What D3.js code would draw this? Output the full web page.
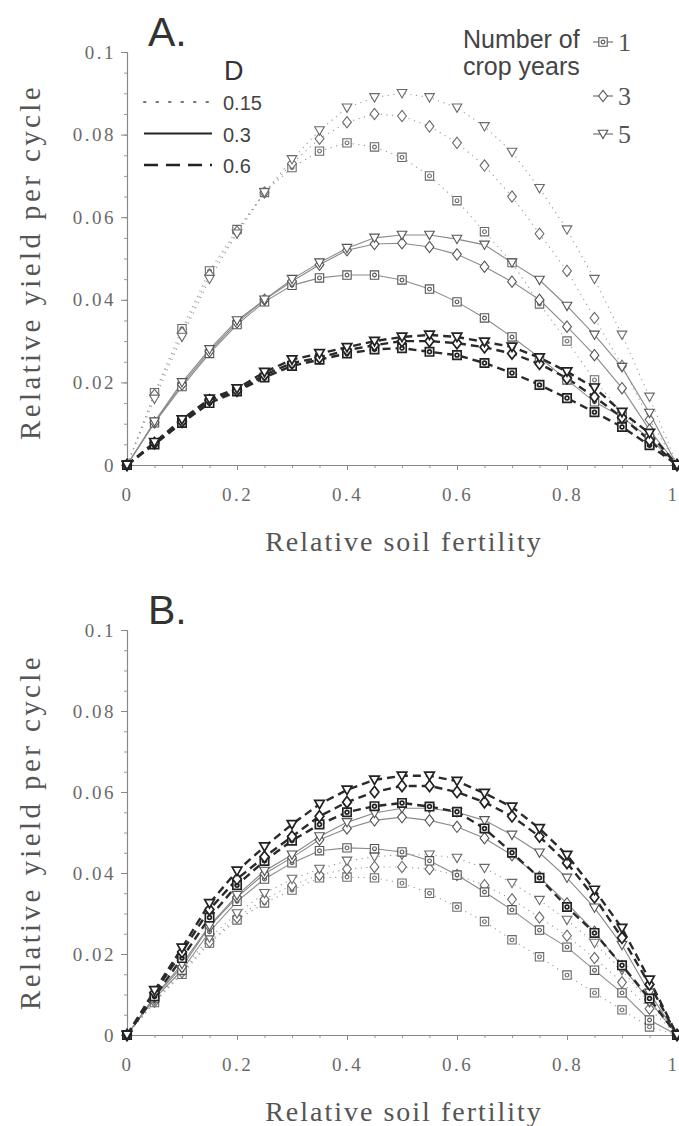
<!DOCTYPE html>
<html>
<head>
<meta charset="utf-8">
<script src="https://cdn.jsdelivr.net/npm/d3@7"></script>
<style>
  body { margin: 0; background: #fff; }
  svg { display: block; }
</style>
</head>
<body>
<svg id="chart" width="679" height="1126"></svg>
<script>
// relative soil fertility (x)
const fertility = [0, 0.05, 0.1, 0.15, 0.2, 0.25, 0.3, 0.35, 0.4, 0.45, 0.5,
                   0.55, 0.6, 0.65, 0.7, 0.75, 0.8, 0.85, 0.9, 0.95, 1];

// panel A, D = 0.15
const a15y1 = [0, 0.0175, 0.033, 0.047, 0.057, 0.066, 0.072, 0.076, 0.078, 0.077, 0.0745, 0.070, 0.064, 0.0565, 0.049, 0.039, 0.030, 0.0206, 0.0126, 0.006, 0];
const a15y3 = [0, 0.017, 0.032, 0.046, 0.0565, 0.066, 0.073, 0.079, 0.083, 0.085, 0.0845, 0.082, 0.078, 0.0725, 0.065, 0.056, 0.047, 0.0356, 0.024, 0.011, 0];
const a15y5 = [0, 0.016, 0.031, 0.045, 0.056, 0.066, 0.074, 0.081, 0.0865, 0.089, 0.090, 0.089, 0.0865, 0.082, 0.0758, 0.067, 0.057, 0.045, 0.0315, 0.0165, 0];
// panel A, D = 0.3
const a30y1 = [0, 0.0102, 0.019, 0.027, 0.034, 0.0395, 0.0435, 0.0453, 0.046, 0.046, 0.0448, 0.0426, 0.0395, 0.0356, 0.031, 0.026, 0.0206, 0.0153, 0.0116, 0.0065, 0];
const a30y3 = [0, 0.0103, 0.0195, 0.0275, 0.0345, 0.040, 0.0445, 0.0485, 0.052, 0.0535, 0.0537, 0.0528, 0.051, 0.048, 0.0444, 0.040, 0.0335, 0.0266, 0.0186, 0.0085, 0];
const a30y5 = [0, 0.0105, 0.020, 0.028, 0.035, 0.040, 0.045, 0.049, 0.0525, 0.055, 0.0557, 0.0557, 0.0547, 0.0533, 0.049, 0.0448, 0.0385, 0.0315, 0.0237, 0.0126, 0];
// panel A, D = 0.6
const a60y1 = [0, 0.005, 0.0102, 0.015, 0.0178, 0.0212, 0.024, 0.0255, 0.027, 0.028, 0.0283, 0.0274, 0.0266, 0.0247, 0.0223, 0.0194, 0.0162, 0.0128, 0.0092, 0.0048, 0];
const a60y3 = [0, 0.0053, 0.0105, 0.0157, 0.018, 0.0218, 0.0247, 0.026, 0.0278, 0.029, 0.030, 0.030, 0.0295, 0.0285, 0.027, 0.0245, 0.021, 0.0165, 0.0115, 0.006, 0];
const a60y5 = [0, 0.0055, 0.011, 0.016, 0.0185, 0.0225, 0.0255, 0.027, 0.0285, 0.030, 0.031, 0.0315, 0.031, 0.0298, 0.0286, 0.026, 0.0226, 0.0187, 0.0128, 0.0077, 0];

// panel B, D = 0.15
const b15y1 = [0, 0.008, 0.015, 0.0227, 0.0284, 0.0326, 0.0358, 0.0388, 0.039, 0.0388, 0.0375, 0.035, 0.0316, 0.028, 0.0235, 0.0193, 0.0148, 0.0104, 0.0062, 0.002, 0];
const b15y3 = [0, 0.0082, 0.0155, 0.023, 0.029, 0.0335, 0.037, 0.0395, 0.041, 0.0415, 0.0415, 0.041, 0.0395, 0.037, 0.0335, 0.029, 0.0245, 0.019, 0.013, 0.0065, 0];
const b15y5 = [0, 0.0085, 0.016, 0.024, 0.030, 0.035, 0.0385, 0.041, 0.043, 0.044, 0.0445, 0.0445, 0.0437, 0.0412, 0.0375, 0.0333, 0.0284, 0.0227, 0.016, 0.008, 0];
// panel B, D = 0.3
const b30y1 = [0, 0.009, 0.016, 0.0255, 0.033, 0.0385, 0.0425, 0.0455, 0.0462, 0.046, 0.0452, 0.043, 0.0395, 0.0353, 0.0309, 0.0259, 0.0217, 0.016, 0.0104, 0.0037, 0];
const b30y3 = [0, 0.0094, 0.0168, 0.0268, 0.034, 0.0398, 0.0438, 0.0482, 0.051, 0.053, 0.0538, 0.053, 0.0514, 0.0486, 0.0444, 0.039, 0.0325, 0.0255, 0.017, 0.0085, 0];
const b30y5 = [0, 0.0095, 0.0175, 0.027, 0.0345, 0.0405, 0.0445, 0.049, 0.0525, 0.0548, 0.056, 0.056, 0.055, 0.053, 0.0494, 0.045, 0.0388, 0.0314, 0.0222, 0.0104, 0];
// panel B, D = 0.6
const b60y1 = [0, 0.0095, 0.019, 0.029, 0.037, 0.043, 0.048, 0.052, 0.055, 0.0565, 0.0573, 0.0564, 0.0551, 0.051, 0.045, 0.0388, 0.0316, 0.0252, 0.0172, 0.009, 0];
const b60y3 = [0, 0.0105, 0.0205, 0.031, 0.0385, 0.044, 0.049, 0.054, 0.0575, 0.060, 0.0615, 0.0615, 0.060, 0.0575, 0.054, 0.049, 0.0425, 0.034, 0.024, 0.0125, 0];
const b60y5 = [0, 0.011, 0.0215, 0.0325, 0.0405, 0.0465, 0.052, 0.057, 0.0605, 0.063, 0.064, 0.064, 0.0627, 0.0597, 0.0563, 0.051, 0.0444, 0.0358, 0.0264, 0.0136, 0];

const yTicks = [0, 0.02, 0.04, 0.06, 0.08, 0.1];
const xTicks = [0, 0.2, 0.4, 0.6, 0.8, 1];
const dLegend = ['0.15', '0.3', '0.6'];
const yearLegend = ['1', '3', '5'];

const svg = d3.select('#chart');

// marker shapes
const symSquare = { draw(ctx, s) {
  const h = Math.sqrt(s) / 2;
  ctx.rect(-h, -h, 2 * h, 2 * h);
  ctx.moveTo(h * 0.45, 0);
  ctx.arc(0, 0, h * 0.45, 0, 2 * Math.PI);
} };
const symDiamond = { draw(ctx, s) {
  const r = Math.sqrt(s) / 2;
  ctx.moveTo(0, -r * 1.35);
  ctx.lineTo(r * 1.05, 0);
  ctx.lineTo(0, r * 1.35);
  ctx.lineTo(-r * 1.05, 0);
  ctx.closePath();
} };
const symTriDown = { draw(ctx, s) {
  const r = Math.sqrt(s) / 2;
  ctx.moveTo(-r * 1.15, -r * 0.9);
  ctx.lineTo(r * 1.15, -r * 0.9);
  ctx.lineTo(0, r * 1.1);
  ctx.closePath();
} };
const shapes = { '1': symSquare, '3': symDiamond, '5': symTriDown };

const lineStyle = {
  '0.15': { stroke: '#9a9a9a', width: 1.1, dash: '1.2,4.5' },
  '0.3':  { stroke: '#8a8a8a', width: 1.1, dash: null },
  '0.6':  { stroke: '#2a2a2a', width: 2.4, dash: '8,5' }
};
const markStyle = {
  '0.15': { stroke: '#6a6a6a', width: 1.1 },
  '0.3':  { stroke: '#555', width: 1.1 },
  '0.6':  { stroke: '#222', width: 1.7 }
};

let x = d3.scaleLinear().domain([0, 1]).range([127, 677]);

function drawPanel(y, series, label) {
  let g = svg.append('g');

  // minor ticks
  g.append('g')
    .attr('transform', 'translate(127,0)')
    .call(d3.axisLeft(y).tickValues(d3.range(0, 0.1001, 0.005)).tickSize(3).tickFormat(''))
    .call(a => a.select('.domain').remove())
    .selectAll('line').attr('stroke', '#999');

  let yAxis = g.append('g')
    .attr('transform', 'translate(127,0)')
    .call(d3.axisLeft(y).tickValues(yTicks).tickSize(6).tickPadding(5)
      .tickFormat(d => d === 0 ? '0' : String(+d.toFixed(2))));
  yAxis.select('.domain').attr('stroke', '#888').attr('stroke-width', 1.2);
  yAxis.selectAll('line').attr('stroke', '#888');
  yAxis.selectAll('text')
    .style('font-family', '"Liberation Serif", serif')
    .style('font-size', '19px')
    .style('letter-spacing', '2.5px')
    .attr('fill', '#6a6a6a');

  let y0 = y(0);
  g.append('g')
    .attr('transform', 'translate(0,' + y0 + ')')
    .call(d3.axisBottom(x).tickValues(d3.range(0, 1.001, 0.05)).tickSize(3).tickFormat(''))
    .call(a => a.select('.domain').remove())
    .selectAll('line').attr('stroke', '#999');

  let xAxis = g.append('g')
    .attr('transform', 'translate(0,' + y0 + ')')
    .call(d3.axisBottom(x).tickValues(xTicks).tickSize(5).tickPadding(18)
      .tickFormat(d => d === 0 || d === 1 ? String(d) : d.toFixed(1)));
  xAxis.select('.domain').attr('stroke', '#888').attr('stroke-width', 1.2);
  xAxis.selectAll('line').attr('stroke', '#888');
  xAxis.selectAll('text')
    .style('font-family', '"Liberation Serif", serif')
    .style('font-size', '19px')
    .style('letter-spacing', '2.5px')
    .attr('fill', '#6a6a6a');
  // the last label sits at the right edge
  xAxis.selectAll('.tick text')
    .filter(d => d === 1)
    .attr('text-anchor', 'end')
    .attr('dx', '2');

  // axis titles
  g.append('text')
    .attr('x', 404).attr('y', y0 + 86)
    .attr('text-anchor', 'middle')
    .style('font-family', '"Liberation Serif", serif')
    .style('font-size', '28px')
    .style('letter-spacing', '2px')
    .attr('fill', '#555')
    .text('Relative soil fertility');

  g.append('text')
    .attr('transform', 'translate(40,' + (y0 - 203) + ') rotate(-90)')
    .attr('text-anchor', 'middle')
    .style('font-family', '"Liberation Serif", serif')
    .style('font-size', '29px')
    .style('letter-spacing', '3.4px')
    .attr('fill', '#555')
    .text('Relative yield per cycle');

  g.append('text')
    .attr('x', 148).attr('y', y(0.1) - 6)
    .style('font-family', '"Liberation Sans", Arial, sans-serif')
    .style('font-size', '41px')
    .attr('fill', '#333')
    .text(label);

  let line = d3.line().x((d, i) => x(fertility[i])).y(d => y(d));

  ['0.15', '0.3', '0.6'].forEach(D => {
    series.filter(s => s.D === D).forEach(s => {
      let st = lineStyle[D];
      g.append('path')
        .datum(s.values)
        .attr('fill', 'none')
        .attr('stroke', st.stroke)
        .attr('stroke-width', st.width)
        .attr('stroke-dasharray', st.dash)
        .attr('d', line);
    });
  });

  series.forEach(s => {
    let ms = markStyle[s.D];
    g.append('g')
      .selectAll('path')
      .data(s.values)
      .enter()
      .append('path')
      .attr('transform', (d, i) => 'translate(' + x(fertility[i]) + ',' + y(d) + ')')
      .attr('d', d3.symbol().type(shapes[s.years]).size(70))
      .attr('fill', '#fff')
      .attr('stroke', ms.stroke)
      .attr('stroke-width', ms.width);
  });
}

function makeSeries(v15, v30, v60) {
  let out = [];
  [['0.15', v15], ['0.3', v30], ['0.6', v60]].forEach(([D, vals]) => {
    yearLegend.forEach((yr, k) => out.push({ D: D, years: yr, values: vals[k] }));
  });
  return out;
}

let yA = d3.scaleLinear().domain([0, 0.1]).range([465, 52]);
let yB = d3.scaleLinear().domain([0, 0.1]).range([1035, 630]);

drawPanel(yA, makeSeries([a15y1, a15y3, a15y5], [a30y1, a30y3, a30y5], [a60y1, a60y3, a60y5]), 'A.');
drawPanel(yB, makeSeries([b15y1, b15y3, b15y5], [b30y1, b30y3, b30y5], [b60y1, b60y3, b60y5]), 'B.');

// legend: D
let leg = svg.append('g');
leg.append('text')
  .attr('x', 224).attr('y', 80)
  .style('font-family', '"Liberation Sans", Arial, sans-serif')
  .style('font-size', '27px')
  .attr('fill', '#333')
  .text('D');

let legDash = { '0.15': { stroke: '#777', width: 2.2, dash: '1.5,11' },
                '0.3': { stroke: '#222', width: 2.2, dash: null },
                '0.6': { stroke: '#222', width: 2.6, dash: '14,8' } };
dLegend.forEach((D, i) => {
  let yy = 102 + i * 31.5;
  leg.append('line')
    .attr('x1', 144).attr('x2', 212).attr('y1', yy).attr('y2', yy)
    .attr('stroke', legDash[D].stroke)
    .attr('stroke-width', legDash[D].width)
    .attr('stroke-linecap', D === '0.15' ? 'round' : 'butt')
    .attr('stroke-dasharray', legDash[D].dash);
  leg.append('text')
    .attr('x', 223).attr('y', yy + 8)
    .style('font-family', '"Liberation Sans", Arial, sans-serif')
    .style('font-size', '20px')
    .attr('fill', '#444')
    .text(D);
});

// legend: number of crop years
leg.append('text')
  .attr('x', 463).attr('y', 48)
  .style('font-family', '"Liberation Sans", Arial, sans-serif')
  .style('font-size', '25px')
  .attr('fill', '#444')
  .text('Number of');
leg.append('text')
  .attr('x', 463).attr('y', 75)
  .style('font-family', '"Liberation Sans", Arial, sans-serif')
  .style('font-size', '25px')
  .attr('fill', '#444')
  .text('crop years');

yearLegend.forEach((yr, i) => {
  let yy = [42, 96, 134][i];
  leg.append('line')
    .attr('x1', 593).attr('x2', 613).attr('y1', yy).attr('y2', yy)
    .attr('stroke', '#666').attr('stroke-width', 1.1);
  leg.append('path')
    .attr('transform', 'translate(603,' + yy + ')')
    .attr('d', d3.symbol().type(shapes[yr]).size(70))
    .attr('fill', '#fff')
    .attr('stroke', '#555')
    .attr('stroke-width', 1.1);
  leg.append('text')
    .attr('x', 618).attr('y', yy + 9)
    .style('font-family', '"Liberation Serif", serif')
    .style('font-size', '26px')
    .attr('fill', '#555')
    .text(yr);
});
</script>
</body>
</html>
